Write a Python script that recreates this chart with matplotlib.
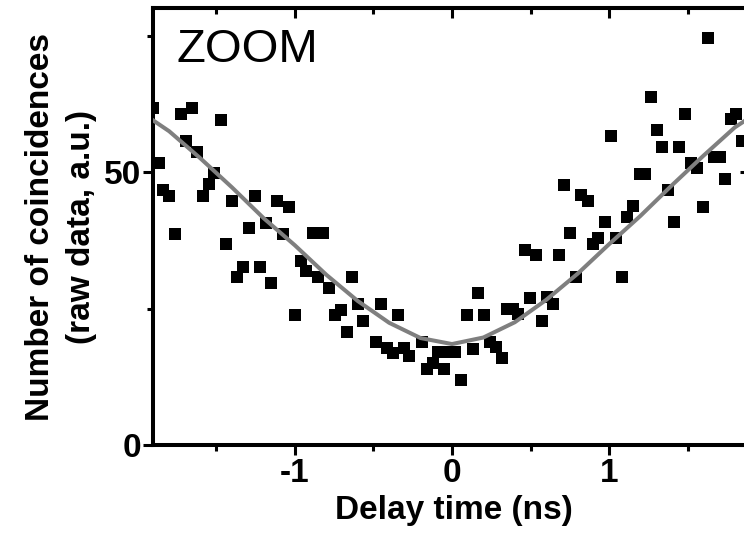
import matplotlib
matplotlib.use("Agg")
import matplotlib.pyplot as plt
from matplotlib.ticker import MultipleLocator

plt.rcParams['font.family'] = ['Liberation Sans', 'DejaVu Sans']
plt.rcParams['axes.unicode_minus'] = False

# measured coincidences (delay in ns, counts)
delay = [-1.90, -1.728, -1.658, -1.473, -1.694, -1.620, -1.866, -1.514, -1.548, -1.839,
         -1.803, -1.584, -1.403, -1.255, -1.111, -1.036, -1.185, -1.293, -1.764, -1.074,
         -1.44, -0.887, -0.819, -1.33, -1.37, -1.22, -1.15, -0.964, -0.930, -0.856,
         -0.781, -0.635, -1.000, -0.745, -0.709, -0.597, -0.454, -0.565, -0.671, -0.342,
         -0.486, -0.412, -0.378, -0.306, -0.272, -0.193, -0.161, -0.123, -0.087, -0.049,
         -0.045, 0.019, 0.057, 0.094, 0.168, 0.204, 0.132, 0.242, 0.280, 0.317,
         0.348, 0.391, 0.422, 0.497, 0.571, 0.603, 0.645, 0.465, 0.535, 0.682,
         0.790, 0.752, 0.896, 0.932, 1.045, 0.975, 1.081, 1.414, 1.117, 1.155,
         0.716, 0.822, 0.864, 1.197, 1.229, 1.374, 1.595, 1.739, 1.52, 1.558,
         1.669, 1.707, 1.34, 1.448, 1.845, 1.011, 1.304, 1.484, 1.777, 1.809,
         1.266, 1.629]
counts = [61.7, 60.6, 61.7, 59.6, 55.8, 53.7, 51.7, 49.8, 47.8, 46.7,
          45.7, 45.7, 44.7, 45.7, 44.7, 43.7, 40.7, 39.8, 38.7, 38.7,
          36.9, 38.8, 38.8, 32.7, 30.7, 32.7, 29.7, 33.8, 31.8, 30.8,
          28.8, 30.8, 23.8, 23.8, 24.8, 25.8, 25.8, 22.8, 20.8, 23.8,
          18.9, 17.8, 16.8, 17.8, 16.4, 18.9, 14.0, 15.0, 17.0, 14.0,
          17.0, 17.0, 12.0, 23.8, 27.8, 23.8, 17.6, 18.9, 18.0, 16.0,
          24.9, 24.9, 24.0, 26.9, 22.8, 27.1, 25.9, 35.8, 34.8, 34.8,
          30.8, 38.8, 36.8, 37.9, 37.9, 40.9, 30.8, 40.9, 41.8, 43.8,
          47.7, 45.8, 44.8, 49.7, 49.7, 46.8, 43.7, 48.8, 51.7, 50.7,
          52.7, 52.7, 54.7, 54.7, 55.7, 56.7, 57.7, 60.7, 59.7, 60.7,
          63.7, 74.6]

# fitted curve
fit_x = [-2.0, -1.8, -1.6, -1.4, -1.2, -1.0, -0.8, -0.6, -0.4, -0.2, 0.0,
         0.2, 0.4, 0.6, 0.8, 1.0, 1.2, 1.4, 1.6, 1.8, 2.0]
fit_y = [61.4, 57.5, 52.5, 47.2, 41.6, 36.6, 31.2, 26.4, 22.4, 19.6, 18.5,
         19.7, 22.5, 26.6, 31.4, 36.8, 42.0, 47.6, 53.0, 58.2, 62.0]

fig = plt.figure(figsize=(7.44, 5.33), dpi=100)
ax = fig.add_axes([0.2063, 0.1651, 0.8024, 0.819])

ax.plot(delay, counts, 's', color='black', ms=8.8, mew=0, zorder=2)
ax.plot(fit_x, fit_y, '-', color='#7f7f7f', lw=2.9, zorder=3)

ax.set_xlim(-1.9, 1.9)
ax.set_ylim(0, 80)

for s in ax.spines.values():
    s.set_linewidth(2.9)

ax.xaxis.set_major_locator(MultipleLocator(1))
ax.xaxis.set_minor_locator(MultipleLocator(0.5))
ax.yaxis.set_major_locator(MultipleLocator(50))
ax.yaxis.set_minor_locator(MultipleLocator(25))
ax.tick_params(which='major', direction='out', length=7.5, width=2.2, pad=1.5, labelsize=24)
ax.tick_params(which='minor', direction='out', length=4, width=2.2)
for lab in ax.get_xticklabels() + ax.get_yticklabels():
    lab.set_fontweight('bold')

# mirrored axes with inward ticks
top = ax.secondary_xaxis('top')
top.xaxis.set_major_locator(MultipleLocator(1))
top.xaxis.set_minor_locator(MultipleLocator(0.5))
top.tick_params(which='major', direction='in', length=7.5, width=2.2, labeltop=False)
top.tick_params(which='minor', direction='in', length=4, width=2.2)
top.spines['top'].set_linewidth(2.9)
right = ax.secondary_yaxis('right')
right.yaxis.set_major_locator(MultipleLocator(50))
right.yaxis.set_minor_locator(MultipleLocator(25))
right.tick_params(which='major', direction='in', length=7.5, width=2.2, labelright=False)
right.tick_params(which='minor', direction='in', length=4, width=2.2)
right.spines['right'].set_linewidth(2.9)

ax.set_xlabel("Delay time (ns)", fontsize=24, fontweight='bold', va='center')
ax.xaxis.set_label_coords(0.504, -0.149)
ax.set_ylabel("Number of coincidences\n(raw data, a.u.)", fontsize=24, fontweight='bold',
              va='center', linespacing=1.4)
ax.yaxis.set_label_coords(-0.155, 0.5)

ax.text(0.039, 0.877, "ZOOM", transform=ax.transAxes, fontsize=34, va='baseline')

fig.savefig("out.png", dpi=100)
